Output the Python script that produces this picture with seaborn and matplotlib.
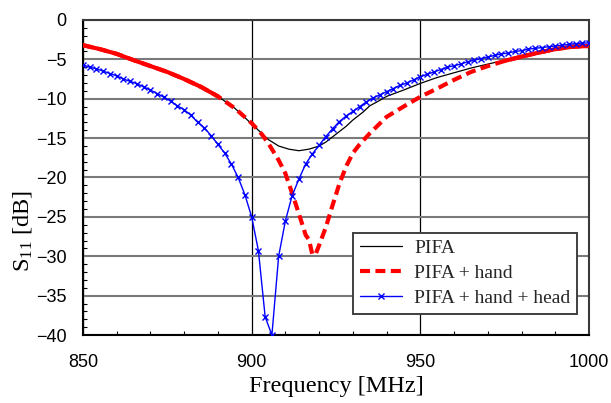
import numpy as np
import pandas as pd
import matplotlib
matplotlib.use("Agg")
import matplotlib.pyplot as plt
import seaborn as sns
from matplotlib.ticker import MultipleLocator

# ---------------- data ----------------
pifa_f = [850, 855, 860, 865, 870, 875, 880, 885, 890, 895, 900, 903, 905, 908, 911,
          914, 917, 920, 922, 925, 928, 930, 933, 935, 938, 940, 945, 950, 955, 960,
          965, 970, 975, 980, 985, 990, 995, 1000]
pifa_s = [-3.2, -3.7, -4.3, -5.1, -5.85, -6.6, -7.5, -8.5, -9.7, -11.2, -13.2, -14.4, -15.2,
          -16.0, -16.4, -16.6, -16.4, -16.0, -15.5, -14.5, -13.5, -12.7, -11.7, -10.9,
          -10.2, -9.7, -8.9, -8.05, -7.3, -6.7, -6.1, -5.6, -5.1, -4.7, -4.3, -3.8, -3.5, -3.2]

hand_f = [850, 855, 860, 865, 870, 875, 880, 885, 890, 895, 900, 903, 905, 908, 910,
          912, 914, 916, 917, 918, 919, 920, 922, 924, 926, 928, 930, 932, 935, 940,
          945, 950, 955, 960, 965, 970, 975, 980, 985, 990, 995, 1000]
hand_s = [-3.2, -3.7, -4.3, -5.1, -5.85, -6.6, -7.5, -8.5, -9.7, -11.2, -13.1, -14.5, -15.7,
          -17.8, -19.5, -22.0, -24.6, -27.3, -27.9, -29.8, -29.7, -28.6, -26.3, -23.5,
          -20.8, -18.6, -16.9, -15.8, -14.4, -12.3, -11.0, -9.75, -8.7, -7.6, -6.6, -5.85,
          -5.2, -4.65, -4.15, -3.7, -3.4, -3.3]

head_f = list(range(850, 1001, 2))
head_s = [-5.7, -6.0, -6.2, -6.5, -6.8, -7.1, -7.5, -7.8, -8.1, -8.5, -8.9, -9.35, -9.8,
          -10.3, -10.9, -11.4, -12.1, -13.0, -13.7, -14.7, -15.8, -16.9, -18.3, -20.0,
          -22.2, -25.0, -29.3, -37.7, -40.0, -30.0, -25.5, -22.3, -20.2, -18.3, -17.0,
          -15.9, -14.8, -13.8, -12.9, -12.2, -11.6, -11.0, -10.4, -9.9, -9.5, -9.1, -8.7,
          -8.3, -8.0, -7.6, -7.2, -6.9, -6.6, -6.3, -6.0, -5.8, -5.6, -5.3, -5.1, -4.9,
          -4.7, -4.5, -4.3, -4.2, -4.0, -3.9, -3.7, -3.6, -3.5, -3.4, -3.3, -3.2, -3.1,
          -3.0, -2.95, -2.9]

labels = ["PIFA", "PIFA + hand", "PIFA + hand + head"]
x_ticks = [850, 900, 950, 1000]
y_ticks = [0, -5, -10, -15, -20, -25, -30, -35, -40]

# ---------------- style ----------------
sns.set_theme(style="white")
plt.rcParams["mathtext.fontset"] = "custom"
plt.rcParams["mathtext.rm"] = "Liberation Serif"
plt.rcParams["mathtext.it"] = "Liberation Serif:italic"

fig = plt.figure(figsize=(6.11, 4.03), dpi=100)
ax = fig.add_axes([83 / 611, 1 - 335 / 403, (589 - 83) / 611, (335 - 20) / 403])

df_pifa = pd.DataFrame({"f": pifa_f, "s": pifa_s})
df_hand = pd.DataFrame({"f": hand_f, "s": hand_s})
df_head = pd.DataFrame({"f": head_f, "s": head_s})

RED_LW = 3.0
# red: solid-looking where the original's dense points hide the dash gaps
sns.lineplot(data=df_hand[df_hand.f <= 890], x="f", y="s", ax=ax, color="#ff0000",
             lw=RED_LW, sort=False, legend=False, zorder=3)
sns.lineplot(data=df_hand[df_hand.f >= 975], x="f", y="s", ax=ax, color="#ff0000",
             lw=RED_LW, sort=False, legend=False, zorder=3)
sns.lineplot(data=df_pifa, x="f", y="s", ax=ax, color="black", lw=0.9, sort=False,
             label=labels[0], zorder=2)
sns.lineplot(data=df_hand, x="f", y="s", ax=ax, color="#ff0000", lw=RED_LW, sort=False,
             label=labels[1], zorder=3)
ax.lines[-1].set_dashes([2.4, 1.3])
sns.lineplot(data=df_head, x="f", y="s", ax=ax, color="#0000ff", lw=1.0, sort=False,
             marker="x", markersize=4.5, markeredgewidth=1.0, markeredgecolor="#0000ff",
             label=labels[2], zorder=4)

ax.set_xlim(850, 1000)
ax.set_ylim(-40, 0)
ax.set_xticks(x_ticks)
ax.set_yticks(y_ticks)
ax.xaxis.set_minor_locator(MultipleLocator(10))
ax.yaxis.set_minor_locator(MultipleLocator(1))

for lab in ax.get_xticklabels() + ax.get_yticklabels():
    lab.set_fontfamily("Liberation Sans")
    lab.set_fontsize(13)
    lab.set_color("black")

ax.tick_params(axis="both", which="major", length=0)
ax.tick_params(axis="y", which="major", pad=12)
ax.tick_params(axis="x", which="major", pad=14)
ax.tick_params(axis="both", which="minor", direction="in", length=3, width=0.8,
               color="black", bottom=True, left=True, top=False, right=False)

# grid: gray horizontal lines, black vertical lines
ax.yaxis.grid(True, which="major", color="#7a7a7a", lw=1.5)
ax.xaxis.grid(True, which="major", color="black", lw=0.9)
ax.set_axisbelow(True)

for side in ["left", "bottom"]:
    ax.spines[side].set_color("black")
    ax.spines[side].set_linewidth(1.5)
for side in ["top", "right"]:
    ax.spines[side].set_color("#3a3a3a")
    ax.spines[side].set_linewidth(1.5)
    ax.spines[side].set_visible(True)

ax.set_xlabel("Frequency [MHz]", fontfamily="Liberation Serif", fontsize=17.5,
              color="black", labelpad=3)
ax.set_ylabel(r"S$_{\mathrm{11}}$ [dB]", fontfamily="Liberation Serif", fontsize=17.5,
              color="black")
ax.yaxis.set_label_coords(-0.097, 0.33)

leg = ax.legend(loc="lower right", bbox_to_anchor=(577 / 611, 1 - 314 / 403),
                bbox_transform=fig.transFigure,
                prop={"family": "Liberation Serif", "size": 14},
                frameon=True, fancybox=False, framealpha=1, edgecolor="#404040",
                handlelength=2.2, handletextpad=0.6, borderpad=0.35, labelspacing=0.38,
                borderaxespad=0)
leg.get_frame().set_linewidth(1.4)

fig.savefig("out.png", dpi=100)
